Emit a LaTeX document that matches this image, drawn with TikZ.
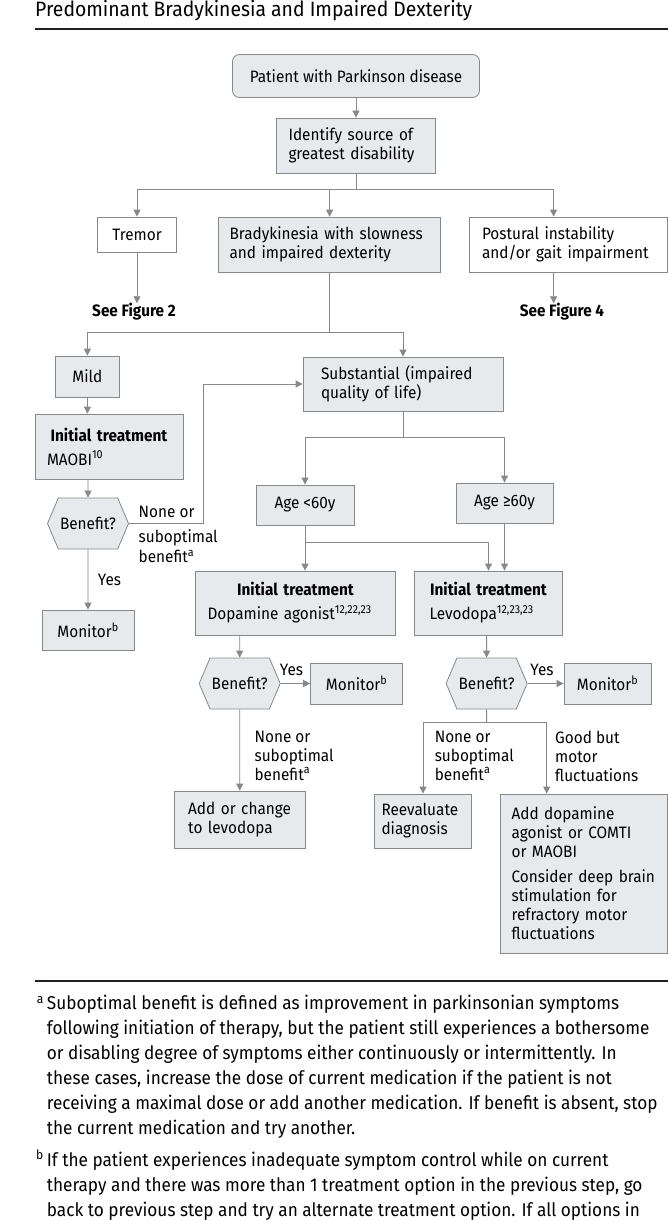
\documentclass[tikz,border=0pt]{standalone}
\usepackage{fontspec}
\setmainfont{Fira Sans}[FakeStretch=0.93]
\usepackage{tikz}
\usetikzlibrary{arrows.meta}
\usetikzlibrary{positioning, shapes.symbols}

\definecolor{boxfill}{HTML}{E6EAED}
\definecolor{linegray}{HTML}{888888}
\definecolor{rulecol}{HTML}{231F20}

\newcommand{\boxfont}{\fontsize{16.5}{19}\selectfont}
\newcommand{\notefont}{\fontsize{18.5}{25}\selectfont}

\tikzset{
  hex/.style={signal, signal to=west and east, signal pointer angle=134, minimum width=81, minimum height=51, inner sep=0pt, align=center},
  hv/.style={to path={-| (\tikztotarget)}},
}

\begin{document}
\begin{tikzpicture}[x=1pt,y=-1pt]
    \useasboundingbox (0,0) rectangle (668,1220);
    \fill[white] (0,0) rectangle (668,1220);

        % heading and the two rules
        \node[anchor=base west, inner sep=0pt, font=\fontsize{20.8}{23}\selectfont] (title) at (35,17) {Predominant Bradykinesia and Impaired Dexterity};
        \coordinate (R1a) at (35,29.5);
        \coordinate (R1b) at (668,29.5);
        \coordinate (R2a) at (35,980.5);
        \coordinate (R2b) at (668,980.5);
        \draw[rulecol, line width=2pt] (R1a) -- (R1b);
        \draw[rulecol, line width=2pt] (R2a) -- (R2b);

        % Add or remove boxes here, use the tuple for location
        \begin{scope}[every node/.style={draw=linegray, fill=boxfill, line width=0.8pt, font=\boxfont, inner xsep=12pt, inner ysep=0pt, align=left}]
        \node[rounded corners=7pt, align=center, minimum width=247, minimum height=43] (P) at (356,76) {Patient with Parkinson disease};
        \node[minimum width=159, minimum height=55, text width=135] (Id) at (356,145.5) {Identify source of\\greatest disability};
        \node[fill=white, align=center, minimum width=79, minimum height=35] (Tr) at (137,234.5) {Tremor};
        \node[inner xsep=11pt, minimum width=222, minimum height=55, text width=200] (Br) at (329.6,244.6) {Bradykinesia with slowness\\and impaired dexterity};
        \node[fill=white, inner xsep=13pt, minimum width=198, minimum height=55, text width=172] (Po) at (568,244.5) {Postural instability\\and/or gait impairment};

        \node[align=center, minimum width=64, minimum height=41] (Mi) at (87.4,376.5) {Mild};
        \node[minimum width=148, minimum height=65, text width=124] (Ma) at (109,446.5) {\makebox[\linewidth]{\bfseries Initial treatment}\\[5pt]MAOBI\textsuperscript{10}};
        \node[hex] (H1) at (88,523.5) {Benefit?};
        \node[align=center, minimum width=92, minimum height=40] (Mo1) at (88,630) {Monitor\textsuperscript{b}};

        \node[inner xsep=18pt, minimum width=200, minimum height=54, text width=164] (Su) at (403,384) {Substantial (impaired\\quality of life)};
        \node[align=center, minimum width=98, minimum height=40] (A1) at (305,505) {Age {<}60y};
        \node[align=center, minimum width=97, minimum height=40] (A2) at (504.5,503) {Age ≥60y};

        \node[minimum width=200, minimum height=64, text width=176] (DA) at (295.5,603) {\makebox[\linewidth]{\bfseries Initial treatment}\\[5pt]Dopamine agonist\textsuperscript{12,22,23}};
        \node[inner xsep=15pt, minimum width=148, minimum height=64, text width=118] (Lev) at (488.5,603) {\makebox[\linewidth]{\bfseries Initial treatment}\\[5pt]Levodopa\textsuperscript{12,23,23}};

        \node[hex] (H2) at (239.7,683.5) {Benefit?};
        \node[align=center, minimum width=92, minimum height=41] (Mo2) at (356.6,683.5) {Monitor\textsuperscript{b}};
        \node[inner xsep=14pt, minimum width=131, minimum height=57, text width=103] (Ad) at (239.7,819.5) {Add or change\\to levodopa};

        \node[hex] (H3) at (486.6,683.5) {Benefit?};
        \node[align=center, minimum width=87, minimum height=41] (Mo3) at (607.5,683.5) {Monitor\textsuperscript{b}};
        \node[inner xsep=7pt, minimum width=97, minimum height=54, text width=83] (Re) at (423,821) {Reevaluate\\diagnosis};
        \node[inner xsep=11pt, minimum width=166.4, minimum height=159, text width=144.4] (Bg) at (583.8,873.5) {Add dopamine\\agonist or COMTI\\or MAOBI\\[6pt]Consider deep brain\\stimulation for\\refractory motor\\fluctuations};
        \end{scope}

        % labels beside the lines
        \begin{scope}[every node/.style={font=\boxfont, inner sep=0pt, align=left}]
        \node[font=\boxfont\bfseries] (F2) at (134,312) {See Figure 2};
        \node[font=\boxfont\bfseries] (F4) at (562,312) {See Figure 4};
        \node[anchor=north west, font=\fontsize{16.5}{20}\selectfont] (N1) at (138.5,506) {None or\\[5pt]suboptimal\\benefit\textsuperscript{a}};
        \node (Y1) at (109.5,580) {Yes};
        \node (Y2) at (291.5,669.5) {Yes};
        \node (Y3) at (542,669.5) {Yes};
        \node[anchor=north west] (N2) at (254.4,730.5) {None or\\suboptimal\\benefit\textsuperscript{a}};
        \node[anchor=north west] (N3) at (434.6,730.5) {None or\\suboptimal\\benefit\textsuperscript{a}};
        \node[anchor=north west] (G3) at (555,730.5) {Good but\\motor\\fluctuations};
        \end{scope}

        % footnotes
        \node[anchor=north west, inner sep=0pt, align=left, font=\notefont] (FNa) at (46.7,995) {\llap{\textsuperscript{a}\,}Suboptimal benefit is defined as improvement in parkinsonian symptoms\\following initiation of therapy, but the patient still experiences a bothersome\\or disabling degree of symptoms either continuously or intermittently. In\\these cases, increase the dose of current medication if the patient is not\\receiving a maximal dose or add another medication. If benefit is absent, stop\\the current medication and try another.};
        \node[anchor=north west, inner sep=0pt, align=left, font=\notefont] (FNb) at (46.7,1150) {\llap{\textsuperscript{b}\,}If the patient experiences inadequate symptom control while on current\\therapy and there was more than 1 treatment option in the previous step, go\\back to previous step and try an alternate treatment option. If all options in};

        % junction points
        \coordinate (J1) at (356,189);
        \coordinate (J2) at (329.6,332);
        \coordinate (K1) at (203,523.5);
        \coordinate (J3) at (403,437);
        \coordinate (J4) at (305,542);
        \coordinate (J5) at (486.6,722);
        \coordinate (PoT) at ([xshift=85pt]Po.north west);
        \coordinate (PoB) at ([xshift=85pt]Po.south west);
        \coordinate (BgT) at ([xshift=46.5pt]Bg.north west);

        % connectors
        % Remove or add new edges here
        \begin{scope}[>={Triangle[length=7pt,width=7pt]},
                  every edge/.style={draw=linegray, line width=0.8pt}]
        \path [->] (P) edge (Id);
        \path [-] (Id) edge (J1);
        \path [->] (J1) edge[hv] (Tr);
        \path [->] (J1) edge[hv] (Br);
        \path [->] (J1) edge[hv] (PoT);
        \path [->] (Tr.south) edge (Tr.south |- F2.north);
        \path [->] (PoB) edge (PoB |- F4.north);

        \path [-] (Br) edge (J2);
        \path [->] (J2) edge[hv] (Mi);
        \path [->] (J2) edge[hv] (Su);
        \path [->] (Mi) edge (Mi |- Ma.north);
        \path [->] (H1 |- Ma.south) edge (H1);
        \path [->] (H1) edge (Mo1);
        \path [->] (H1) edge[to path={-- (K1) |- (\tikztotarget)}] (Su);

        \path [-] (Su) edge (J3);
        \path [->] (J3) edge[hv] (A1);
        \path [->] (J3) edge[hv] (A2);
        \path [-] (A1) edge (J4);
        \path [->] (J4) edge (J4 |- DA.north);
        \path [->] (J4) edge[hv] (Lev);
        \path [->] (A2) edge (A2 |- Lev.north);

        \path [->] (H2 |- DA.south) edge (H2);
        \path [->] (H2) edge (Mo2);
        \path [->] (H2) edge (Ad);
        \path [->] (H3 |- Lev.south) edge (H3);
        \path [->] (H3) edge (Mo3);
        \path [-] (H3) edge (J5);
        \path [->] (J5) edge[hv] (Re);
        \path [->] (J5) edge[hv] (BgT);
        \end{scope}

\end{tikzpicture}
\end{document}
